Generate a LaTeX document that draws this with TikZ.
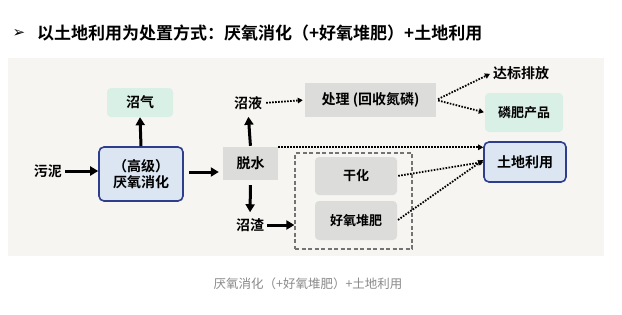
\documentclass[tikz,border=0pt]{standalone}
\usepackage{fontspec}
\setmainfont{Noto Sans CJK SC}[BoldFont={Noto Sans CJK SC Bold}]
\newfontfamily\dejavu{DejaVu Sans}
\usetikzlibrary{arrows.meta}
\definecolor{panelbg}{HTML}{F6F5F1}
\definecolor{bluefill}{HTML}{DCE6F2}
\definecolor{blueline}{HTML}{2E3D8C}
\definecolor{mintfill}{HTML}{D9F0E6}
\definecolor{grayfill}{HTML}{DCDCDA}
\definecolor{capgray}{HTML}{8A8A8A}
\tikzset{
  lbl/.style={font=\fontsize{14}{16}\selectfont\bfseries, inner sep=1pt},
  bluebox/.style={lbl, draw=blueline, line width=1.6pt, fill=bluefill, rounded corners=5pt, align=center},
  mintbox/.style={lbl, fill=mintfill, rounded corners=4pt},
  graybox/.style={lbl, fill=grayfill},
  grayrbox/.style={lbl, fill=grayfill, rounded corners=4pt},
  solidarrow/.style={line width=3pt, -{Triangle[length=8pt,width=9pt]}},
  dotarrow/.style={line width=1.8pt, dash pattern=on 1.6pt off 1.4pt, -{Triangle[length=5pt,width=5.5pt]}},
}
\begin{document}
\begin{tikzpicture}[x=1pt,y=-1pt]
\useasboundingbox (0,0) rectangle (622,314);
\fill[white] (0,0) rectangle (622,314);
\fill[panelbg] (8,58) rectangle (604,256);
% title
\node (bullet) at (19,33) {\dejavu\fontsize{15}{16}\selectfont\bfseries ➢};
\node[anchor=west, inner sep=0pt, font=\fontsize{17}{20}\selectfont\bfseries] (title) at (37,33) {以土地利用为处置方式：厌氧消化（+好氧堆肥）+土地利用};
% nodes
\node[lbl] (wuni) at (48,171) {污泥};
\node[bluebox, minimum width=84pt, minimum height=54pt] (xh) at (141,174) {（高级）\\厌氧消化};
\node[mintbox, minimum width=66pt, minimum height=29pt] (zq) at (140,102.5) {沼气};
\node[graybox, minimum width=55pt, minimum height=33pt] (ts) at (250.5,163.5) {脱水};
\node[lbl] (zy) at (248,103) {沼液};
\node[graybox, minimum width=131pt, minimum height=34pt] (cl) at (370.5,100) {处理 (回收氮磷)};
\node[lbl] (db) at (521,73) {达标排放};
\node[mintbox, font=\fontsize{13}{15}\selectfont\bfseries, minimum width=78pt, minimum height=39pt] (lf) at (524,112.5) {磷肥产品};
\node[bluebox, minimum width=82pt, minimum height=40pt] (td) at (525,162) {土地利用};
\node[draw=black!55, line width=1.2pt, dash pattern=on 4pt off 2.5pt, minimum width=117pt, minimum height=96pt, inner sep=0pt] (dash) at (353.5,201) {};
\node[grayrbox, font=\fontsize{13}{15}\selectfont\bfseries, minimum width=82pt, minimum height=38pt] (gh) at (356,176) {干化};
\node[grayrbox, font=\fontsize{13}{15}\selectfont\bfseries, minimum width=82pt, minimum height=39pt] (df) at (356,220.5) {好氧堆肥};
\node[lbl] (zz) at (250,225) {沼渣};
\node[font=\fontsize{12.5}{14}\selectfont, text=capgray] (cap) at (308,284) {厌氧消化（+好氧堆肥）+土地利用};
\coordinate (mid) at (0,172);
% solid arrows
\draw[solidarrow, shorten <=2pt] (wuni.east) -- (wuni.east -| xh.west);
\draw[solidarrow] (xh.north) -- (zq.south);
\draw[solidarrow, shorten <=5pt, shorten >=4pt] (xh.east |- mid) -- (ts.west |- mid);
\draw[solidarrow, shorten <=1pt, shorten >=6pt] (ts.north) -- (zy.south);
\draw[solidarrow, shorten <=5pt, shorten >=5pt] (ts.south) -- (zz.north);
\draw[solidarrow, shorten <=2pt] (zz.east) -- (zz.east -| dash.west);
% dotted arrows
\draw[dotarrow, shorten <=3pt, shorten >=2pt] (zy.east) -- (cl.west);
\draw[dotarrow, shorten <=2pt, shorten >=2pt] (cl.east) -- (db.west);
\draw[dotarrow, shorten <=2pt, shorten >=1pt] (cl.east) -- (lf.west);
\draw[dotarrow] ([yshift=-0.5pt]ts.north east) -- ([yshift=-0.5pt]ts.north east -| td.west);
\draw[dotarrow, shorten <=1pt] (gh.east) -- (td.west);
\draw[dotarrow, shorten <=1pt] (df.east) -- ([yshift=2pt]td.west);
\end{tikzpicture}
\end{document}
